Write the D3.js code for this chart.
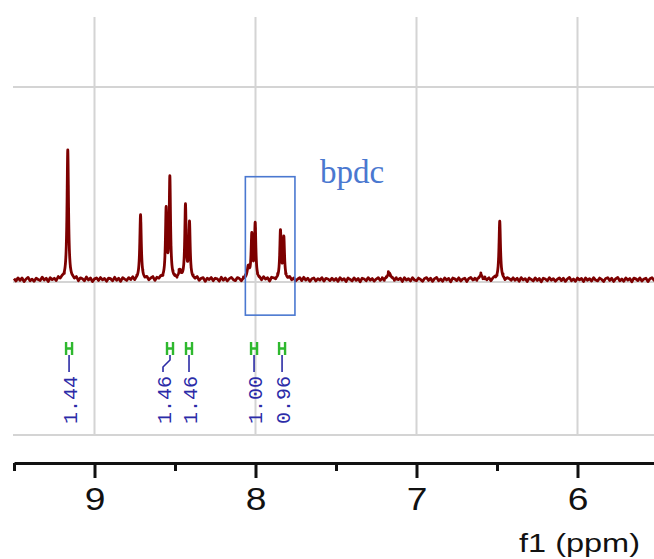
<!DOCTYPE html>
<html>
<head>
<meta charset="utf-8">
<script src="https://cdn.jsdelivr.net/npm/d3@7"></script>
<style>
  html, body { margin: 0; padding: 0; background: #fff; }
  svg { display: block; }
</style>
</head>
<body>
<svg id="chart" width="654" height="559"></svg>
<script>
// 1H NMR spectrum, aromatic region (ppm), with integrals

// chemical-shift range shown (left to right)
const ppmRange = [9.5, 5.5];
const majorTicks = [9, 8, 7, 6];
const minorTicks = [9.5, 8.5, 7.5, 6.5, 5.5];
const gridIntensity = [1, 0, -0.785];

// resonances: shift (ppm), height (relative intensity), half width (ppm)
const peakShift  = [9.166, 8.714, 8.555, 8.532, 8.470, 8.435, 8.410, 8.045, 8.023, 8.002, 7.845, 7.824, 7.170, 6.600, 6.483];
const peakHeight = [0.665, 0.332, 0.350, 0.515, 0.040, 0.375, 0.285, 0.060, 0.220, 0.280, 0.245, 0.210, 0.035, 0.025, 0.300];
const peakWidth  = [0.0055, 0.0055, 0.005, 0.005, 0.008, 0.005, 0.005, 0.008, 0.005, 0.005, 0.005, 0.005, 0.012, 0.010, 0.0055];

// baseline offset and baseline noise (thousandths of full scale),
// one value every 0.0125 ppm from 9.5 down to 5.5
const baselineOffset = 0.012;
const baselineNoise = [
   5,-7, 9,-4, 8,-10, 3,11,-6, 2,-9, 7, 0,-5,12,-3, 6,-11, 8,-2,
   4,-8,10,-1, 7,-9, 5,11,-7, 1,-4, 9,-10, 6, 2,-8,12,-3, 7,-11,
   3, 8,-5,10,-2, 5,-9, 7, 4,-7,11,-4, 6,-10, 9, 1,-6, 8,-3,10,
  -8, 5, 2,-11, 7,-2, 9,-6, 4,11,-9, 6,-1, 8,-7,10,-4, 3,-10, 7,
   5,-8,11,-3, 6,-9, 2, 9,-5, 7,-2,10,-8, 4, 8,-11, 5,-1, 9,-7,
   6, 3,-9,11,-4, 7,-8, 4,10,-2,-7, 8, 2,-10, 6, 9,-3, 7,-9, 5,
  11,-6, 3,-8,10,-1, 6,-11, 8, 4,-5, 9,-7, 3, 7,-10, 5,10,-4, 6,
  -8, 2, 9,-6,11,-3, 7,-9, 4, 8,-7, 5,-2,10,-8, 6, 3,-5, 7,-4,
   6,-9,10,-2, 5,-10, 8, 1,-7, 9,-4, 6,-11, 7, 3,-6,10,-3, 5,-8,
   2, 9,-5, 7,-9, 4,11,-6, 3,-8, 8,-1, 6,-10, 9,-3, 5,-7,10,-2,
  -6, 8, 1,-9, 6,10,-4, 7,-9, 5,11,-6, 3,-8, 9,-2, 6,-11, 8, 4,
  -5, 9,-7, 3, 7,-10, 5,10,-3, 6,-8, 2, 9,-6,10,-4, 7,-9, 4, 8,
  -7, 5,-2,11,-8, 6, 3,-5, 8,-4, 6,-9,10,-2, 5,-10, 8, 1,-7, 9,
  -4, 6,-11, 7, 3,-6,10,-3, 5,-8, 2, 9,-5, 7,-9, 4,11,-6, 3,-8,
   8,-1, 6,-10, 9,-3, 5,-7,10,-2,-6, 8, 1,-9, 6,10,-4, 7,-9, 5,
  11,-6, 3,-8, 9,-2, 6,-11, 8, 4,-5, 9,-7, 3, 7,-10, 5,10,-3, 6,
  -4
];

// integrals
const integralShift = [9.158, 8.531, 8.413, 8.009, 7.835];
const integralValue = [1.44, 1.46, 1.46, 1.00, 0.96];

// highlighted region (bpdc linker signals)
const boxShift = [8.063, 7.755];
const boxIntensity = [0.540, -0.170];
const boxLabel = "bpdc";
const boxLabelShift = 7.60;
const boxLabelIntensity = 0.506;

const axisTitle = "f1 (ppm)";

// ---------------------------------------------------------------
const svg = d3.select("#chart");
const W = 654, H = 559;

const x = d3.scaleLinear().domain(ppmRange).range([14, 658]);
const y = d3.scaleLinear().domain([0, 1]).range([282, 87]);

const gridTop = 17, gridBottom = y(gridIntensity[2]);
const axisY = 463;

// grid
const grid = svg.append("g").attr("stroke", "#d4d4d4").attr("stroke-width", 2);
grid.selectAll("line.v").data(majorTicks).join("line")
  .attr("class", "v")
  .attr("x1", d => x(d)).attr("x2", d => x(d))
  .attr("y1", gridTop).attr("y2", gridBottom);
grid.selectAll("line.h").data(gridIntensity).join("line")
  .attr("class", "h")
  .attr("x1", 13).attr("x2", W)
  .attr("y1", d => y(d)).attr("y2", d => y(d));

// spectrum: baseline grid points plus dense sampling around each resonance
function intensity(p) {
  let s = baselineOffset;
  for (let i = 0; i < peakShift.length; i++) {
    const u = (p - peakShift[i]) / peakWidth[i];
    s += peakHeight[i] / (1 + u * u);
  }
  return s;
}
const pts = [];
const step = (ppmRange[0] - ppmRange[1]) / (baselineNoise.length - 1);
baselineNoise.forEach((n, i) => {
  const p = ppmRange[0] - i * step;
  pts.push([p, intensity(p) + n / 1000]);
});
peakShift.forEach((c, i) => {
  const span = Math.max(0.025, peakWidth[i] * 4);
  for (let p = c - span; p <= c + span; p += 0.0005) pts.push([p, intensity(p)]);
});
pts.sort((a, b) => b[0] - a[0]);

svg.append("path")
  .datum(pts)
  .attr("fill", "none")
  .attr("stroke", "#7d0000")
  .attr("stroke-width", 2.8)
  .attr("stroke-linejoin", "round")
  .attr("d", d3.line().x(d => x(d[0])).y(d => y(d[1])));

// bpdc box and label
svg.append("rect")
  .attr("x", x(boxShift[0])).attr("y", y(boxIntensity[0]))
  .attr("width", x(boxShift[1]) - x(boxShift[0]))
  .attr("height", y(boxIntensity[1]) - y(boxIntensity[0]))
  .attr("fill", "none").attr("stroke", "#4a78d0").attr("stroke-width", 1.6);
svg.append("text")
  .attr("x", x(boxLabelShift)).attr("y", y(boxLabelIntensity))
  .attr("font-family", "'Liberation Serif', 'Times New Roman', serif")
  .attr("font-size", 33)
  .attr("fill", "#4a78d0")
  .text(boxLabel);

// integrals: green marker, connector, rotated value
const hTop = 342, hBot = 355, lblTop = 372;
const hx = integralShift.map(d => x(d));
const lx = hx.slice();
for (let i = lx.length - 2; i >= 0; i--) {
  if (lx[i + 1] - lx[i] < 26) lx[i] = lx[i + 1] - 26;
}
const integ = svg.append("g");
integ.selectAll("path.mark").data(integralShift).join("path")
  .attr("class", "mark")
  .attr("fill", "none").attr("stroke", "#2eb82e").attr("stroke-width", 2.4)
  .attr("d", (d, i) => {
    const c = hx[i];
    return `M${c - 3},${hTop}V${hBot}M${c + 3},${hTop}V${hBot}M${c - 3},${(hTop + hBot) / 2}H${c + 3}`;
  });
integ.selectAll("path.conn").data(integralShift).join("path")
  .attr("class", "conn")
  .attr("fill", "none").attr("stroke", "#2b2ba5").attr("stroke-width", 1.6)
  .attr("d", (d, i) => {
    if (Math.abs(lx[i] - hx[i]) < 0.5) return `M${hx[i]},${hBot}V${lblTop}`;
    return `M${hx[i]},${hBot}V${hBot + 5}L${lx[i]},${hBot + 12}V${lblTop}`;
  });
integ.selectAll("text").data(integralValue).join("text")
  .attr("transform", (d, i) => `translate(${lx[i] + 1},${lblTop + 4}) rotate(-90)`)
  .attr("text-anchor", "end")
  .attr("dy", "0.37em")
  .attr("font-family", "'Liberation Mono', 'Courier New', monospace")
  .attr("font-size", 20)
  .attr("fill", "#2b2ba8")
  .text(d => d3.format(".2f")(d));

// x axis
const axisG = svg.append("g").attr("transform", `translate(0,${axisY})`);
axisG.call(d3.axisBottom(x).tickValues(majorTicks).tickSize(15).tickSizeOuter(0).tickFormat(d3.format("d")));
axisG.call(g => g.select(".domain").attr("stroke", "#111").attr("stroke-width", 3));
axisG.selectAll(".tick line").attr("stroke", "#111").attr("stroke-width", 3);
axisG.selectAll(".tick text")
  .attr("y", 0).attr("dy", 0)
  .attr("transform", "translate(0,47) scale(1.2,1)")
  .attr("x", 0)
  .attr("fill", "#111")
  .attr("font-family", "'Liberation Sans', Arial, sans-serif")
  .attr("font-size", 31);
const minorG = svg.append("g").attr("transform", `translate(0,${axisY})`);
minorG.call(d3.axisBottom(x).tickValues(minorTicks).tickSize(8).tickSizeOuter(0).tickFormat(""));
minorG.select(".domain").remove();
minorG.selectAll(".tick line").attr("stroke", "#111").attr("stroke-width", 3);

// axis title
svg.append("text")
  .attr("transform", `translate(640,552) scale(1.25,1)`)
  .attr("text-anchor", "end")
  .attr("font-family", "'Liberation Sans', Arial, sans-serif")
  .attr("font-size", 26)
  .attr("fill", "#111")
  .text(axisTitle);
</script>
</body>
</html>
